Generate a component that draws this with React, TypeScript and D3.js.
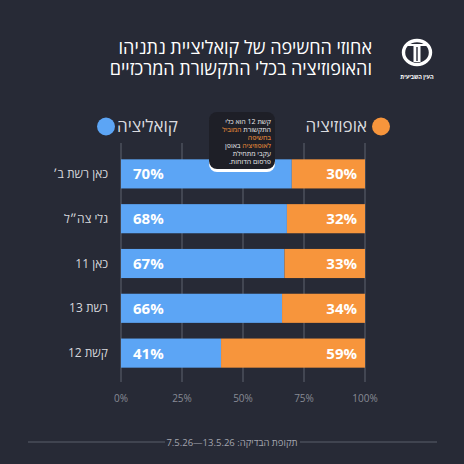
import React from 'react';
import * as d3 from 'd3';

const outlets = ['כאן רשת ב׳', 'גלי צה״ל', 'כאן 11', 'רשת 13', 'קשת 12'];
const coalition = [70, 68, 67, 66, 41];
const opposition = [30, 32, 33, 34, 59];
const xTicks = [0, 25, 50, 75, 100];
const titleLines = ['אחוזי החשיפה של קואליציית נתניהו', 'והאופוזיציה בכלי התקשורת המרכזיים'];

const BG = '#272a36';
const BLUE = '#5ca5f5';
const ORANGE = '#f7953c';
const FONT = '"Open Sans", "Liberation Sans", "DejaVu Sans", sans-serif';

export default function App() {
  const width = 464;
  const height = 464;

  const x = d3.scaleLinear().domain([0, 100]).range([121, 365]);
  const y = d3.scaleBand<string>()
    .domain(outlets)
    .range([145, 382])
    .paddingInner(0.35)
    .paddingOuter(0.32);

  const rows = outlets.map((name, i) => ({ name, coal: coalition[i], opp: opposition[i] }));

  return (
    <div style={{ position: 'fixed', left: 0, top: 0, width, height, background: BG }}>
      <svg width={width} height={height} style={{ display: 'block', fontFamily: FONT }}>
        <rect width={width} height={height} fill={BG} />

        {/* title */}
        {titleLines.map((t, i) => (
          <text key={i} x={372} y={54 + i * 21} direction="rtl" textAnchor="start"
            fill="#ffffff" fontSize={18}>{t}</text>
        ))}

        {/* logo */}
        <g>
          <ellipse cx={417} cy={52.5} rx={13.5} ry={12} fill="none" stroke="#fff" strokeWidth={3.4} />
          <line x1={405} x2={429} y1={45} y2={45} stroke="#fff" strokeWidth={2} />
          <rect x={413.5} y={45} width={7} height={17} fill="#fff" />
          <rect x={416.3} y={47} width={1.4} height={14} fill={BG} />
          <text x={417} y={79} textAnchor="middle" fill="#fff" fontSize={5.5} fontWeight="bold">העין השביעית</text>
        </g>

        {/* legend */}
        <circle cx={381} cy={126.5} r={9} fill={ORANGE} />
        <text x={367} y={132} direction="rtl" textAnchor="start" fill="#d9dadf" fontSize={17}>אופוזיציה</text>
        <circle cx={106} cy={126.5} r={9} fill={BLUE} />
        <text x={178} y={132} direction="rtl" textAnchor="start" fill="#d9dadf" fontSize={17}>קואליציה</text>

        {/* grid */}
        {xTicks.map(t => (
          <line key={t} x1={x(t)} x2={x(t)} y1={143} y2={382} stroke="#5e626e" strokeWidth={1} />
        ))}

        {/* bars */}
        {rows.map(d => {
          const y0 = y(d.name)!;
          const bh = y.bandwidth();
          return (
            <g key={d.name}>
              <rect x={x(0)} y={y0} width={x(d.coal) - x(0)} height={bh} fill={BLUE} />
              <rect x={x(d.coal)} y={y0} width={x(100) - x(d.coal)} height={bh} fill={ORANGE} />
              <text x={133} y={y0 + bh / 2 + 5.5} fill="#fff" fontSize={15} fontWeight="bold">{d.coal}%</text>
              <text x={357} y={y0 + bh / 2 + 5.5} textAnchor="end" fill="#fff" fontSize={15} fontWeight="bold">{d.opp}%</text>
              <text x={108} y={y0 + bh / 2 + 4} direction="rtl" textAnchor="start" fill="#d6d7dc" fontSize={12}>{d.name}</text>
            </g>
          );
        })}

        {/* callout */}
        <g>
          <rect x={209} y={115} width={66} height={57} rx={8} fill="#ffffff" />
          <rect x={209} y={112} width={66} height={57} rx={8} fill="#1e1f27" />
          <text direction="rtl" textAnchor="start" fontSize={7} fill="#e8e8ea">
            <tspan x={271} y={124}>קשת 12 הוא כלי</tspan>
            <tspan x={271} y={132}>התקשורת <tspan fill={ORANGE}>המוביל</tspan></tspan>
            <tspan x={271} y={140} fill={ORANGE}>בחשיפה</tspan>
            <tspan x={271} y={148}><tspan fill={ORANGE}>לאופוזיציה</tspan> באופן</tspan>
            <tspan x={271} y={156}>עקבי מתחילת</tspan>
            <tspan x={271} y={164}>פרסום הדוחות.</tspan>
          </text>
        </g>

        {/* x tick labels */}
        {xTicks.map(t => (
          <text key={t} x={x(t)} y={402} textAnchor="middle" fill="#878a95" fontSize={10}>{t}%</text>
        ))}

        {/* footer */}
        <line x1={28} x2={165} y1={442} y2={442} stroke="#5a5e6a" strokeWidth={1} />
        <line x1={300} x2={437} y1={442} y2={442} stroke="#5a5e6a" strokeWidth={1} />
        <text x={232} y={445.5} direction="rtl" textAnchor="middle" fill="#a3a5ae" fontSize={9.5}>תקופת הבדיקה: 13.5.26—7.5.26</text>
      </svg>
    </div>
  );
}
